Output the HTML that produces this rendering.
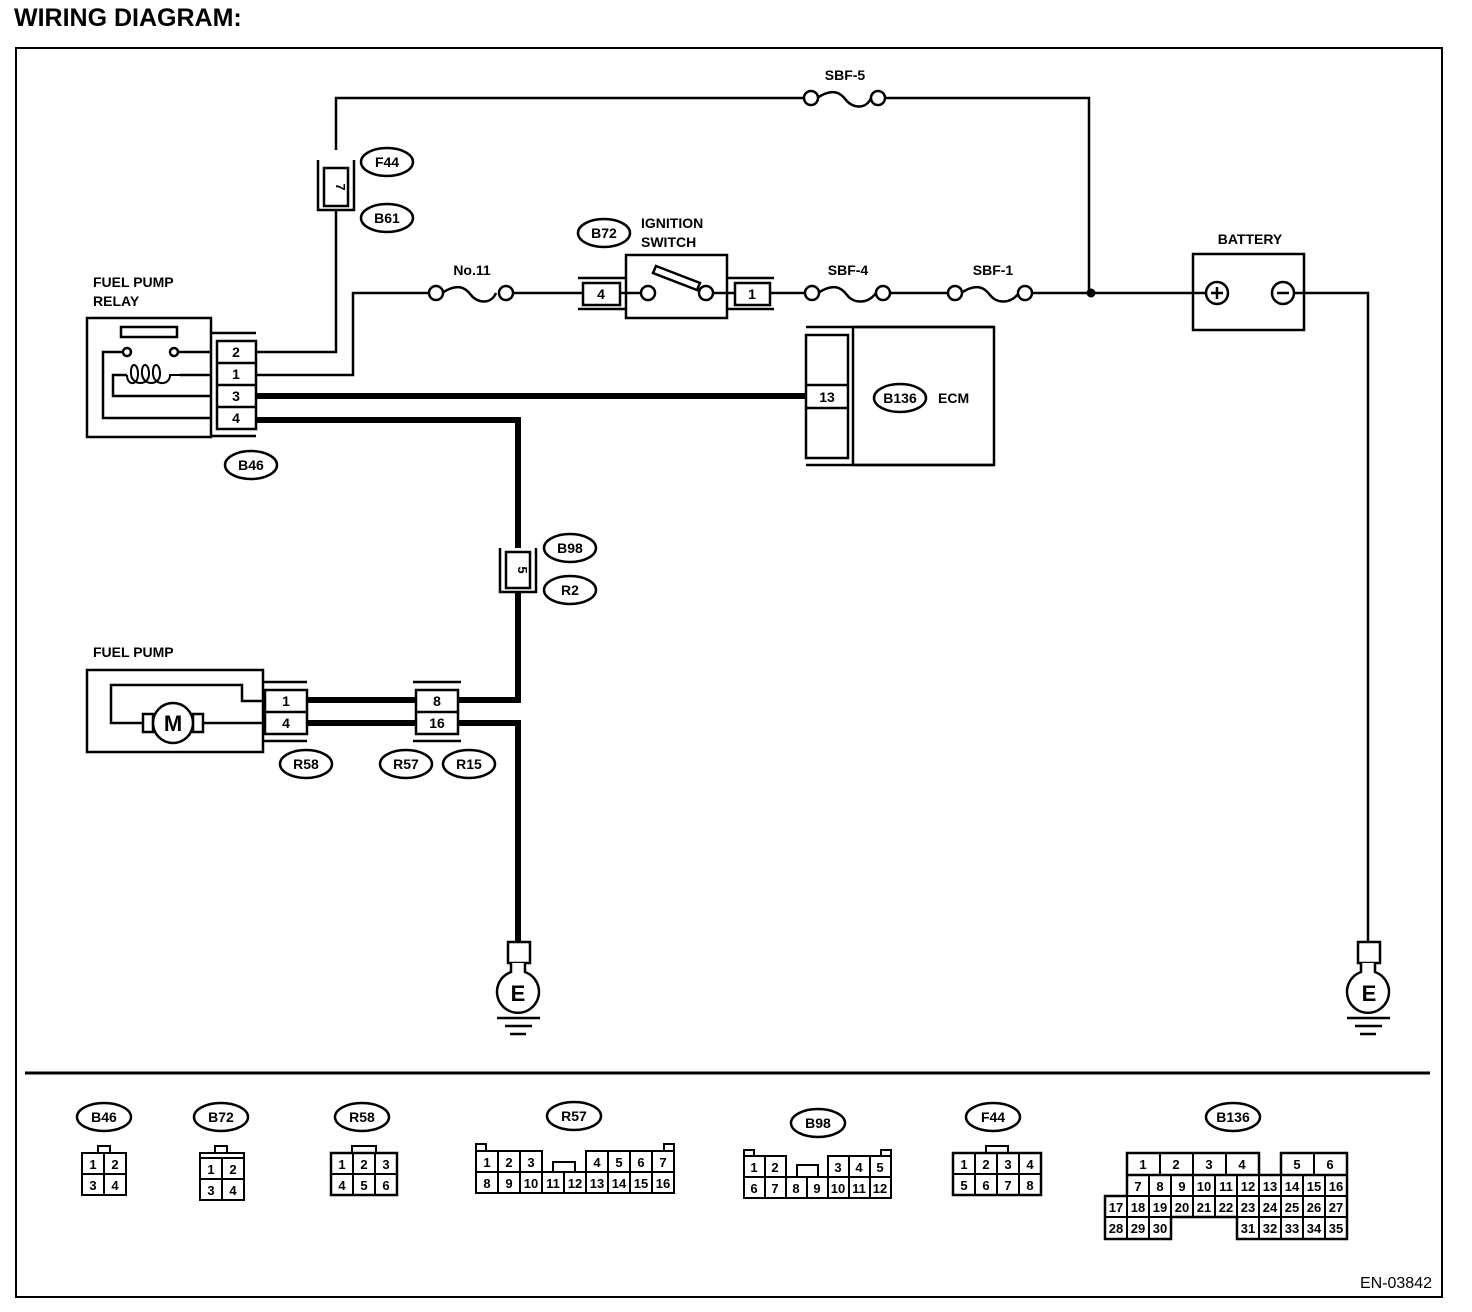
<!DOCTYPE html>
<html><head><meta charset="utf-8"><style>
html,body{margin:0;padding:0;background:#fff;}
svg{display:block;}
text{font-family:"Liberation Sans",sans-serif;font-weight:bold;fill:#000;}
</style></head><body>
<svg width="1472" height="1312" viewBox="0 0 1472 1312" xmlns="http://www.w3.org/2000/svg">
<g fill="none" stroke="#000">
<text x="14" y="26" font-size="25" stroke="none">WIRING DIAGRAM:</text>
<rect x="16" y="48" width="1426" height="1249" stroke-width="2"/>
<line x1="25" y1="1073" x2="1430" y2="1073" stroke-width="3"/>

<g stroke-width="2.5">
<polyline points="256,352 336,352 336,210"/>
<polyline points="336,150 336,98 804,98"/>
<polyline points="883,98 1089,98 1089,293"/>
<polyline points="256,375 353,375 353,293 429,293"/>
<line x1="513" y1="293" x2="583" y2="293"/>
<line x1="620" y1="293" x2="641" y2="293"/>
<line x1="713" y1="293" x2="735" y2="293"/>
<line x1="770" y1="293" x2="805" y2="293"/>
<line x1="889" y1="293" x2="948" y2="293"/>
<line x1="1032" y1="293" x2="1205" y2="293"/>
<polyline points="1295,293 1368,293 1368,942"/>
</g>
<circle cx="1091" cy="293" r="4" fill="#000"/>

<g stroke-width="6">
<line x1="256" y1="396" x2="806" y2="396"/>
<polyline points="256,420 518,420 518,548"/>
<polyline points="518,592 518,700 458,700"/>
<line x1="307" y1="700" x2="416" y2="700"/>
<line x1="307" y1="723" x2="416" y2="723"/>
<polyline points="458,723 518,723 518,942"/>
</g>

<g stroke-width="2.5" fill="#fff">
<path d="M817 98 C832 88,840 92,846 100 S866 110,871 98" fill="none"/>
<circle cx="811" cy="98" r="7"/><circle cx="878" cy="98" r="7"/>
<path d="M442 293 C457 283,465 287,471 295 S491 305,496 293" fill="none"/>
<circle cx="436" cy="293" r="7"/><circle cx="506" cy="293" r="7"/>
<path d="M818 293 C833 283,841 287,847 295 S867 305,876 293" fill="none"/>
<circle cx="812" cy="293" r="7"/><circle cx="883" cy="293" r="7"/>
<path d="M961 293 C976 283,984 287,990 295 S1010 305,1019 293" fill="none"/>
<circle cx="955" cy="293" r="7"/><circle cx="1025" cy="293" r="7"/>
</g>
<g stroke="none" font-size="14">
<text x="845" y="80" text-anchor="middle">SBF-5</text>
<text x="472" y="275" text-anchor="middle">No.11</text>
<text x="848" y="275" text-anchor="middle">SBF-4</text>
<text x="993" y="275" text-anchor="middle">SBF-1</text>
</g>

<g stroke-width="2.5">
<polyline points="318,160 318,210 354,210 354,160"/>
<rect x="324" y="168" width="24" height="38" fill="#fff"/>
</g>
<text x="336" y="187" font-size="13" stroke="none" text-anchor="middle" transform="rotate(90 336 187)">7</text>

<g stroke-width="2.5">
<rect x="87" y="318" width="124" height="119"/>
<line x1="211" y1="333" x2="256" y2="333"/><line x1="211" y1="436" x2="256" y2="436"/>
<rect x="217" y="341" width="39" height="88" fill="#fff"/>
<line x1="217" y1="363" x2="256" y2="363"/><line x1="217" y1="385" x2="256" y2="385"/><line x1="217" y1="407" x2="256" y2="407"/>
<rect x="121" y="327" width="56" height="10"/>
<circle cx="127" cy="352" r="4"/><circle cx="174" cy="352" r="4"/>
<polyline points="178,352 211,352"/>
<polyline points="123,352 103,352 103,418 211,418"/>
<polyline points="211,375 180,375"/>
<path d="M127 375 C127 386,138 386,138 374 C138 362,130 362,131 374 C132 386,149 386,149 374 C149 362,141 362,142 374 C143 386,160 386,160 374 C160 362,152 362,153 374 C154 386,170 386,170 375 L180 375" stroke-width="2"/>
<polyline points="127,375 113,375 113,396 211,396"/>
</g>
<g stroke="none" font-size="14">
<text x="93" y="287">FUEL PUMP</text><text x="93" y="306">RELAY</text>
<text x="236" y="357" text-anchor="middle">2</text>
<text x="236" y="379" text-anchor="middle">1</text>
<text x="236" y="401" text-anchor="middle">3</text>
<text x="236" y="423" text-anchor="middle">4</text>
</g>

<g stroke-width="2.5">
<line x1="578" y1="278" x2="626" y2="278"/><line x1="578" y1="309" x2="626" y2="309"/>
<rect x="583" y="283" width="37" height="22" fill="#fff"/>
<rect x="626" y="255" width="101" height="63"/>
<line x1="727" y1="278" x2="774" y2="278"/><line x1="727" y1="309" x2="774" y2="309"/>
<rect x="735" y="283" width="35" height="22" fill="#fff"/>
<circle cx="648" cy="293" r="7" fill="#fff"/><circle cx="706" cy="293" r="7" fill="#fff"/>
<polygon points="656,266 700,283 697,290 653,273" fill="#fff"/>
</g>
<g stroke="none" font-size="14">
<text x="601" y="299" text-anchor="middle">4</text>
<text x="752" y="299" text-anchor="middle">1</text>
<text x="641" y="228">IGNITION</text><text x="641" y="247">SWITCH</text>
</g>

<g stroke-width="2.5">
<line x1="806" y1="327" x2="994" y2="327"/><line x1="806" y1="465" x2="994" y2="465"/>
<rect x="853" y="327" width="141" height="138"/>
<rect x="806" y="335" width="42" height="123" fill="#fff"/>
<line x1="806" y1="385" x2="848" y2="385"/><line x1="806" y1="408" x2="848" y2="408"/>
</g>
<g stroke="none" font-size="14">
<text x="827" y="402" text-anchor="middle">13</text>
<text x="938" y="403">ECM</text>
</g>

<g stroke-width="2.5">
<rect x="1193" y="254" width="111" height="76"/>
<circle cx="1217" cy="293" r="11" fill="#fff"/><circle cx="1283" cy="293" r="11" fill="#fff"/>
<line x1="1211" y1="293" x2="1223" y2="293"/><line x1="1217" y1="287" x2="1217" y2="299"/>
<line x1="1277" y1="293" x2="1289" y2="293"/>
</g>
<text x="1250" y="244" font-size="14" stroke="none" text-anchor="middle">BATTERY</text>

<g stroke-width="2.5">
<polyline points="500,548 500,592 536,592 536,548"/>
<rect x="506" y="552" width="24" height="36" fill="#fff"/>
</g>
<text x="518" y="570" font-size="13" stroke="none" text-anchor="middle" transform="rotate(90 518 570)">5</text>

<g stroke-width="2.5">
<rect x="87" y="670" width="176" height="82"/>
<line x1="263" y1="682" x2="307" y2="682"/><line x1="263" y1="741" x2="307" y2="741"/>
<rect x="265" y="690" width="42" height="44" fill="#fff"/>
<line x1="265" y1="712" x2="307" y2="712"/>
<polyline points="265,701 242,701 242,685 111,685 111,723 143,723"/>
<rect x="143" y="714" width="10" height="18" fill="#fff"/>
<rect x="193" y="714" width="10" height="18" fill="#fff"/>
<line x1="203" y1="723" x2="265" y2="723"/>
<circle cx="173" cy="723" r="20" fill="#fff"/>
<line x1="413" y1="682" x2="461" y2="682"/><line x1="413" y1="741" x2="461" y2="741"/>
<rect x="416" y="690" width="42" height="44" fill="#fff"/>
<line x1="416" y1="712" x2="458" y2="712"/>
</g>
<g stroke="none" font-size="14">
<text x="93" y="657">FUEL PUMP</text>
<text x="173" y="731" font-size="22" text-anchor="middle">M</text>
<text x="286" y="706" text-anchor="middle">1</text>
<text x="286" y="728" text-anchor="middle">4</text>
<text x="437" y="706" text-anchor="middle">8</text>
<text x="437" y="728" text-anchor="middle">16</text>
</g>

<g stroke-width="2.5">
<rect x="508" y="942" width="22" height="21" fill="#fff"/>
<path d="M511 963 L511 972 A21 21 0 1 0 525 972 L525 963" fill="#fff"/>
<line x1="497" y1="1018" x2="540" y2="1018"/><line x1="505" y1="1026" x2="532" y2="1026"/><line x1="510" y1="1034" x2="526" y2="1034"/>
<rect x="1358" y="942" width="22" height="21" fill="#fff"/>
<path d="M1361 963 L1361 972 A21 21 0 1 0 1375 972 L1375 963" fill="#fff"/>
<line x1="1347" y1="1018" x2="1390" y2="1018"/><line x1="1355" y1="1026" x2="1382" y2="1026"/><line x1="1360" y1="1034" x2="1376" y2="1034"/>
</g>
<g stroke="none" font-size="22">
<text x="518" y="1001" text-anchor="middle">E</text>
<text x="1369" y="1001" text-anchor="middle">E</text>
</g>

<g stroke-width="2.5" fill="#fff">
<ellipse cx="387" cy="162" rx="26" ry="14"/><ellipse cx="387" cy="218" rx="26" ry="14"/>
<ellipse cx="251" cy="465" rx="26" ry="14"/>
<ellipse cx="604" cy="233" rx="26" ry="14"/>
<ellipse cx="900" cy="398" rx="26" ry="14"/>
<ellipse cx="570" cy="548" rx="26" ry="14"/><ellipse cx="570" cy="590" rx="26" ry="14"/>
<ellipse cx="306" cy="764" rx="26" ry="14"/>
<ellipse cx="406" cy="764" rx="26" ry="14"/><ellipse cx="469" cy="764" rx="26" ry="14"/>
<ellipse cx="104" cy="1117" rx="27" ry="14"/><ellipse cx="221" cy="1117" rx="27" ry="14"/>
<ellipse cx="362" cy="1117" rx="27" ry="14"/><ellipse cx="574" cy="1116" rx="27" ry="14"/>
<ellipse cx="818" cy="1123" rx="27" ry="14"/><ellipse cx="993" cy="1117" rx="27" ry="14"/>
<ellipse cx="1233" cy="1117" rx="27" ry="14"/>
</g>
<g stroke="none" font-size="14" text-anchor="middle">
<text x="387" y="167">F44</text><text x="387" y="223">B61</text>
<text x="251" y="470">B46</text><text x="604" y="238">B72</text>
<text x="900" y="403">B136</text>
<text x="570" y="553">B98</text><text x="570" y="595">R2</text>
<text x="306" y="769">R58</text><text x="406" y="769">R57</text><text x="469" y="769">R15</text>
<text x="104" y="1122">B46</text><text x="221" y="1122">B72</text>
<text x="362" y="1122">R58</text><text x="574" y="1121">R57</text>
<text x="818" y="1128">B98</text><text x="993" y="1122">F44</text>
<text x="1233" y="1122">B136</text>
</g>

<g stroke-width="2">
<rect x="98" y="1146" width="12" height="7"/>
<rect x="82" y="1153" width="44" height="42"/><line x1="104" y1="1153" x2="104" y2="1195"/><line x1="82" y1="1174" x2="126" y2="1174"/>
<rect x="215" y="1146" width="12" height="7"/>
<rect x="200" y="1153" width="44" height="47"/><line x1="200" y1="1158" x2="244" y2="1158"/>
<line x1="222" y1="1158" x2="222" y2="1200"/><line x1="200" y1="1179" x2="244" y2="1179"/>
<rect x="352" y="1146" width="24" height="7"/>
<rect x="331" y="1153" width="66" height="42" stroke-width="2.5"/><line x1="353" y1="1153" x2="353" y2="1195"/><line x1="375" y1="1153" x2="375" y2="1195"/><line x1="331" y1="1174" x2="397" y2="1174"/>
<rect x="476" y="1144" width="10" height="7"/><rect x="664" y="1144" width="10" height="7"/>
<polyline points="476,1151 542,1151 542,1172 586,1172 586,1151 674,1151 674,1193 476,1193 476,1151"/>
<rect x="553" y="1162" width="22" height="10"/>
<line x1="476" y1="1172" x2="542" y2="1172"/><line x1="586" y1="1172" x2="674" y2="1172"/>
<line x1="498" y1="1151" x2="498" y2="1193"/><line x1="520" y1="1151" x2="520" y2="1193"/><line x1="542" y1="1151" x2="542" y2="1193"/>
<line x1="564" y1="1172" x2="564" y2="1193"/><line x1="586" y1="1151" x2="586" y2="1193"/><line x1="608" y1="1151" x2="608" y2="1193"/>
<line x1="630" y1="1151" x2="630" y2="1193"/><line x1="652" y1="1151" x2="652" y2="1193"/>
<rect x="744" y="1150" width="10" height="6"/><rect x="881" y="1150" width="10" height="6"/>
<polyline points="744,1156 786,1156 786,1177 828,1177 828,1156 891,1156 891,1198 744,1198 744,1156"/>
<rect x="797" y="1165" width="21" height="12"/>
<line x1="744" y1="1177" x2="786" y2="1177"/><line x1="828" y1="1177" x2="891" y2="1177"/>
<line x1="765" y1="1156" x2="765" y2="1198"/><line x1="786" y1="1156" x2="786" y2="1198"/><line x1="807" y1="1177" x2="807" y2="1198"/>
<line x1="828" y1="1156" x2="828" y2="1198"/><line x1="849" y1="1156" x2="849" y2="1198"/><line x1="870" y1="1156" x2="870" y2="1198"/>
<rect x="986" y="1146" width="22" height="7"/>
<rect x="953" y="1153" width="88" height="42" stroke-width="2.5"/>
<line x1="975" y1="1153" x2="975" y2="1195"/><line x1="997" y1="1153" x2="997" y2="1195"/><line x1="1019" y1="1153" x2="1019" y2="1195"/><line x1="953" y1="1174" x2="1041" y2="1174"/>
<polyline points="1127,1175 1127,1153 1259,1153 1259,1175" stroke-width="2.5"/>
<polyline points="1281,1175 1281,1153 1347,1153 1347,1239 1237,1239 1237,1217 1171,1217 1171,1239 1105,1239 1105,1196 1127,1196 1127,1175 1347,1175" stroke-width="2.5"/>
<line x1="1105" y1="1196" x2="1347" y2="1196"/><line x1="1105" y1="1217" x2="1347" y2="1217"/>
<line x1="1160" y1="1153" x2="1160" y2="1175"/><line x1="1193" y1="1153" x2="1193" y2="1175"/><line x1="1226" y1="1153" x2="1226" y2="1175"/><line x1="1314" y1="1153" x2="1314" y2="1175"/>
<line x1="1149" y1="1175" x2="1149" y2="1239"/><line x1="1127" y1="1196" x2="1127" y2="1239"/>
<line x1="1171" y1="1175" x2="1171" y2="1217"/><line x1="1193" y1="1175" x2="1193" y2="1217"/><line x1="1215" y1="1175" x2="1215" y2="1217"/>
<line x1="1237" y1="1175" x2="1237" y2="1239"/><line x1="1259" y1="1175" x2="1259" y2="1239"/><line x1="1281" y1="1175" x2="1281" y2="1239"/>
<line x1="1303" y1="1175" x2="1303" y2="1239"/><line x1="1325" y1="1175" x2="1325" y2="1239"/>
</g>
<g stroke="none" font-size="13" text-anchor="middle" style="font-weight:normal">
<text x="93" y="1169">1</text><text x="115" y="1169">2</text><text x="93" y="1190">3</text><text x="115" y="1190">4</text>
<text x="211" y="1174">1</text><text x="233" y="1174">2</text><text x="211" y="1195">3</text><text x="233" y="1195">4</text>
<text x="342" y="1169">1</text><text x="364" y="1169">2</text><text x="386" y="1169">3</text>
<text x="342" y="1190">4</text><text x="364" y="1190">5</text><text x="386" y="1190">6</text>
<text x="487" y="1167">1</text><text x="509" y="1167">2</text><text x="531" y="1167">3</text>
<text x="597" y="1167">4</text><text x="619" y="1167">5</text><text x="641" y="1167">6</text><text x="663" y="1167">7</text>
<text x="487" y="1188">8</text><text x="509" y="1188">9</text><text x="531" y="1188">10</text><text x="553" y="1188">11</text>
<text x="575" y="1188">12</text><text x="597" y="1188">13</text><text x="619" y="1188">14</text><text x="641" y="1188">15</text><text x="663" y="1188">16</text>
<text x="754" y="1172">1</text><text x="775" y="1172">2</text>
<text x="838" y="1172">3</text><text x="859" y="1172">4</text><text x="880" y="1172">5</text>
<text x="754" y="1193">6</text><text x="775" y="1193">7</text><text x="796" y="1193">8</text><text x="817" y="1193">9</text>
<text x="838" y="1193">10</text><text x="859" y="1193">11</text><text x="880" y="1193">12</text>
<text x="964" y="1169">1</text><text x="986" y="1169">2</text><text x="1008" y="1169">3</text><text x="1030" y="1169">4</text>
<text x="964" y="1190">5</text><text x="986" y="1190">6</text><text x="1008" y="1190">7</text><text x="1030" y="1190">8</text>
<text x="1143" y="1169">1</text><text x="1176" y="1169">2</text><text x="1209" y="1169">3</text><text x="1242" y="1169">4</text>
<text x="1297" y="1169">5</text><text x="1330" y="1169">6</text>
<text x="1138" y="1191">7</text><text x="1160" y="1191">8</text><text x="1182" y="1191">9</text><text x="1204" y="1191">10</text>
<text x="1226" y="1191">11</text><text x="1248" y="1191">12</text><text x="1270" y="1191">13</text><text x="1292" y="1191">14</text>
<text x="1314" y="1191">15</text><text x="1336" y="1191">16</text>
<text x="1116" y="1212">17</text><text x="1138" y="1212">18</text><text x="1160" y="1212">19</text><text x="1182" y="1212">20</text>
<text x="1204" y="1212">21</text><text x="1226" y="1212">22</text><text x="1248" y="1212">23</text><text x="1270" y="1212">24</text>
<text x="1292" y="1212">25</text><text x="1314" y="1212">26</text><text x="1336" y="1212">27</text>
<text x="1116" y="1233">28</text><text x="1138" y="1233">29</text><text x="1160" y="1233">30</text>
<text x="1248" y="1233">31</text><text x="1270" y="1233">32</text><text x="1292" y="1233">33</text><text x="1314" y="1233">34</text><text x="1336" y="1233">35</text>
</g>
<text x="1432" y="1288" font-size="16" stroke="none" text-anchor="end" style="font-weight:normal">EN-03842</text>
</g>
</svg>
</body></html>
